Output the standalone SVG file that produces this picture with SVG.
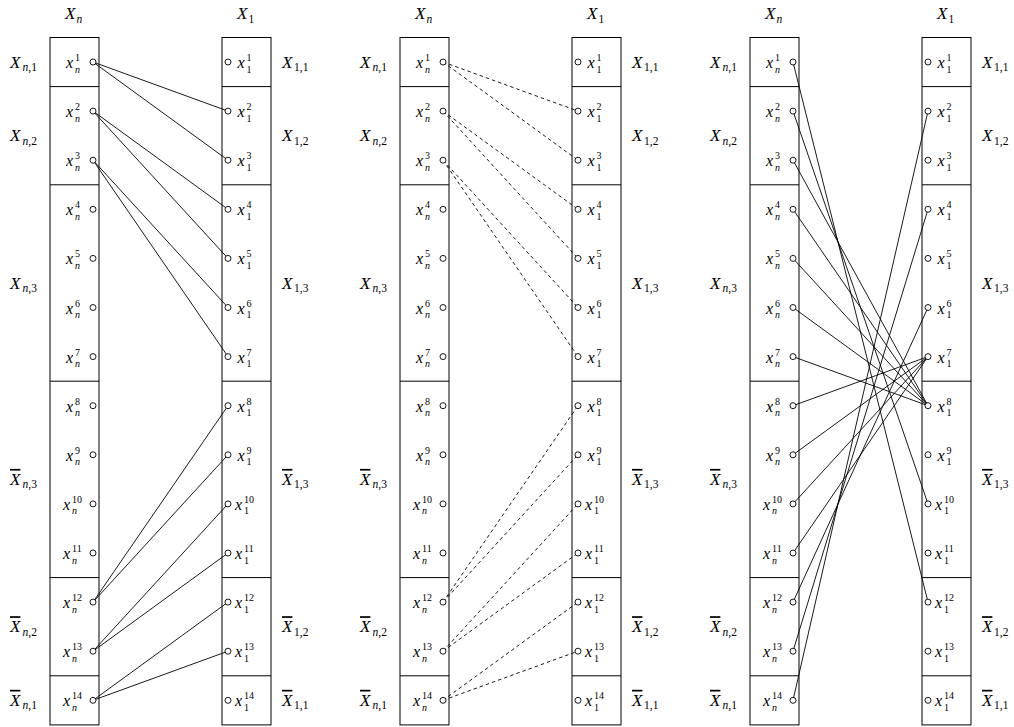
<svg xmlns="http://www.w3.org/2000/svg" width="1014" height="727" viewBox="0 0 1014 727">
<style>
.box{fill:none;stroke:#000;stroke-width:1}
.pt{fill:#fff;stroke:#000;stroke-width:0.9}
.e{fill:none;stroke:#000;stroke-width:0.9}
.d{stroke-dasharray:3.5 3}
text{font-family:"Liberation Serif",serif;font-size:16px;fill:#000}
.g{font-size:17px}
.i{font-style:italic}
.s{font-size:11.5px}
.t{font-size:10px}
.o{text-decoration:overline}
</style>
<rect width="1014" height="727" fill="#fff"/>
<g id="connectors">
<g id="p1-edges" class="e">
<line x1="93" y1="62" x2="228" y2="111.1"/>
<line x1="93" y1="62" x2="228" y2="160.2"/>
<line x1="93" y1="111.1" x2="228" y2="209.3"/>
<line x1="93" y1="111.1" x2="228" y2="258.4"/>
<line x1="93" y1="160.2" x2="228" y2="307.5"/>
<line x1="93" y1="160.2" x2="228" y2="356.6"/>
<line x1="93" y1="602.1" x2="228" y2="405.7"/>
<line x1="93" y1="602.1" x2="228" y2="454.8"/>
<line x1="93" y1="651.2" x2="228" y2="503.9"/>
<line x1="93" y1="651.2" x2="228" y2="553"/>
<line x1="93" y1="700.3" x2="228" y2="602.1"/>
<line x1="93" y1="700.3" x2="228" y2="651.2"/>
</g>
<g id="p2-edges" class="e d">
<line x1="443" y1="62" x2="578" y2="111.1"/>
<line x1="443" y1="62" x2="578" y2="160.2"/>
<line x1="443" y1="111.1" x2="578" y2="209.3"/>
<line x1="443" y1="111.1" x2="578" y2="258.4"/>
<line x1="443" y1="160.2" x2="578" y2="307.5"/>
<line x1="443" y1="160.2" x2="578" y2="356.6"/>
<line x1="443" y1="602.1" x2="578" y2="405.7"/>
<line x1="443" y1="602.1" x2="578" y2="454.8"/>
<line x1="443" y1="651.2" x2="578" y2="503.9"/>
<line x1="443" y1="651.2" x2="578" y2="553"/>
<line x1="443" y1="700.3" x2="578" y2="602.1"/>
<line x1="443" y1="700.3" x2="578" y2="651.2"/>
</g>
<g id="p3-edges" class="e">
<line x1="793" y1="62" x2="928" y2="602.1"/>
<line x1="793" y1="111.1" x2="928" y2="503.9"/>
<line x1="793" y1="160.2" x2="928" y2="405.7"/>
<line x1="793" y1="209.3" x2="928" y2="405.7"/>
<line x1="793" y1="258.4" x2="928" y2="405.7"/>
<line x1="793" y1="307.5" x2="928" y2="405.7"/>
<line x1="793" y1="356.6" x2="928" y2="405.7"/>
<line x1="793" y1="405.7" x2="928" y2="356.6"/>
<line x1="793" y1="454.8" x2="928" y2="356.6"/>
<line x1="793" y1="503.9" x2="928" y2="356.6"/>
<line x1="793" y1="553" x2="928" y2="356.6"/>
<line x1="793" y1="602.1" x2="928" y2="307.5"/>
<line x1="793" y1="651.2" x2="928" y2="209.3"/>
<line x1="793" y1="700.3" x2="928" y2="111.1"/>
</g>
</g>

<g id="panel1">
<g id="p1-Xn"><text class="g" x="65" y="19"><tspan class="i">X</tspan><tspan class="s i" x="76.5" y="22.5">n</tspan></text><rect class="box" x="50" y="37.5" width="49" height="687.4"/><path class="box" d="M50 86.6H99M50 184.8H99M50 381.2H99M50 577.6H99M50 675.8H99"/></g>
<g id="p1-X1"><text class="g" x="237" y="19"><tspan class="i">X</tspan><tspan class="s" x="248.5" y="22.5">1</tspan></text><rect class="box" x="222" y="37.5" width="49" height="687.4"/><path class="box" d="M222 86.6H271M222 184.8H271M222 381.2H271M222 577.6H271M222 675.8H271"/></g>
<g id="p1-Xn1"><text class="g" x="10" y="67.5"><tspan class="i">X</tspan><tspan class="s" x="22.5" y="71"><tspan class="i">n</tspan>,1</tspan></text></g>
<g id="p1-Xn2"><text class="g" x="10" y="141.2"><tspan class="i">X</tspan><tspan class="s" x="22.5" y="144.7"><tspan class="i">n</tspan>,2</tspan></text></g>
<g id="p1-Xn3"><text class="g" x="10" y="288.5"><tspan class="i">X</tspan><tspan class="s" x="22.5" y="292"><tspan class="i">n</tspan>,3</tspan></text></g>
<g id="p1-nXn3"><text class="g" x="10" y="484.9"><tspan class="i o">X</tspan><tspan class="s" x="22.5" y="488.4"><tspan class="i">n</tspan>,3</tspan></text></g>
<g id="p1-nXn2"><text class="g" x="10" y="632.2"><tspan class="i o">X</tspan><tspan class="s" x="22.5" y="635.7"><tspan class="i">n</tspan>,2</tspan></text></g>
<g id="p1-nXn1"><text class="g" x="10" y="705.8"><tspan class="i o">X</tspan><tspan class="s" x="22.5" y="709.3"><tspan class="i">n</tspan>,1</tspan></text></g>
<g id="p1-X11"><text class="g" x="282" y="67.5"><tspan class="i">X</tspan><tspan class="s" x="294" y="71">1,1</tspan></text></g>
<g id="p1-X12"><text class="g" x="282" y="141.2"><tspan class="i">X</tspan><tspan class="s" x="294" y="144.7">1,2</tspan></text></g>
<g id="p1-X13"><text class="g" x="282" y="288.5"><tspan class="i">X</tspan><tspan class="s" x="294" y="292">1,3</tspan></text></g>
<g id="p1-nX13"><text class="g" x="282" y="484.9"><tspan class="i o">X</tspan><tspan class="s" x="294" y="488.4">1,3</tspan></text></g>
<g id="p1-nX12"><text class="g" x="282" y="632.2"><tspan class="i o">X</tspan><tspan class="s" x="294" y="635.7">1,2</tspan></text></g>
<g id="p1-nX11"><text class="g" x="282" y="705.8"><tspan class="i o">X</tspan><tspan class="s" x="294" y="709.3">1,1</tspan></text></g>
<g id="p1-xn1" transform="translate(0,62)"><circle class="pt" cx="93" cy="0" r="3"/><text x="66" y="6"><tspan class="i">x</tspan><tspan class="t" x="75" y="-1">1</tspan><tspan class="t i" x="75" y="10.5">n</tspan></text></g>
<g id="p1-xn2" transform="translate(0,111.1)"><circle class="pt" cx="93" cy="0" r="3"/><text x="66" y="6"><tspan class="i">x</tspan><tspan class="t" x="75" y="-1">2</tspan><tspan class="t i" x="75" y="10.5">n</tspan></text></g>
<g id="p1-xn3" transform="translate(0,160.2)"><circle class="pt" cx="93" cy="0" r="3"/><text x="66" y="6"><tspan class="i">x</tspan><tspan class="t" x="75" y="-1">3</tspan><tspan class="t i" x="75" y="10.5">n</tspan></text></g>
<g id="p1-xn4" transform="translate(0,209.3)"><circle class="pt" cx="93" cy="0" r="3"/><text x="66" y="6"><tspan class="i">x</tspan><tspan class="t" x="75" y="-1">4</tspan><tspan class="t i" x="75" y="10.5">n</tspan></text></g>
<g id="p1-xn5" transform="translate(0,258.4)"><circle class="pt" cx="93" cy="0" r="3"/><text x="66" y="6"><tspan class="i">x</tspan><tspan class="t" x="75" y="-1">5</tspan><tspan class="t i" x="75" y="10.5">n</tspan></text></g>
<g id="p1-xn6" transform="translate(0,307.5)"><circle class="pt" cx="93" cy="0" r="3"/><text x="66" y="6"><tspan class="i">x</tspan><tspan class="t" x="75" y="-1">6</tspan><tspan class="t i" x="75" y="10.5">n</tspan></text></g>
<g id="p1-xn7" transform="translate(0,356.6)"><circle class="pt" cx="93" cy="0" r="3"/><text x="66" y="6"><tspan class="i">x</tspan><tspan class="t" x="75" y="-1">7</tspan><tspan class="t i" x="75" y="10.5">n</tspan></text></g>
<g id="p1-xn8" transform="translate(0,405.7)"><circle class="pt" cx="93" cy="0" r="3"/><text x="66" y="6"><tspan class="i">x</tspan><tspan class="t" x="75" y="-1">8</tspan><tspan class="t i" x="75" y="10.5">n</tspan></text></g>
<g id="p1-xn9" transform="translate(0,454.8)"><circle class="pt" cx="93" cy="0" r="3"/><text x="66" y="6"><tspan class="i">x</tspan><tspan class="t" x="75" y="-1">9</tspan><tspan class="t i" x="75" y="10.5">n</tspan></text></g>
<g id="p1-xn10" transform="translate(0,503.9)"><circle class="pt" cx="93" cy="0" r="3"/><text x="63" y="6"><tspan class="i">x</tspan><tspan class="t" x="72" y="-1">10</tspan><tspan class="t i" x="72" y="10.5">n</tspan></text></g>
<g id="p1-xn11" transform="translate(0,553)"><circle class="pt" cx="93" cy="0" r="3"/><text x="63" y="6"><tspan class="i">x</tspan><tspan class="t" x="72" y="-1">11</tspan><tspan class="t i" x="72" y="10.5">n</tspan></text></g>
<g id="p1-xn12" transform="translate(0,602.1)"><circle class="pt" cx="93" cy="0" r="3"/><text x="63" y="6"><tspan class="i">x</tspan><tspan class="t" x="72" y="-1">12</tspan><tspan class="t i" x="72" y="10.5">n</tspan></text></g>
<g id="p1-xn13" transform="translate(0,651.2)"><circle class="pt" cx="93" cy="0" r="3"/><text x="63" y="6"><tspan class="i">x</tspan><tspan class="t" x="72" y="-1">13</tspan><tspan class="t i" x="72" y="10.5">n</tspan></text></g>
<g id="p1-xn14" transform="translate(0,700.3)"><circle class="pt" cx="93" cy="0" r="3"/><text x="63" y="6"><tspan class="i">x</tspan><tspan class="t" x="72" y="-1">14</tspan><tspan class="t i" x="72" y="10.5">n</tspan></text></g>
<g id="p1-x11" transform="translate(0,62)"><circle class="pt" cx="228" cy="0" r="3"/><text x="237.5" y="6"><tspan class="i">x</tspan><tspan class="t" x="246.5" y="-1">1</tspan><tspan class="t" x="246.5" y="10.5">1</tspan></text></g>
<g id="p1-x12" transform="translate(0,111.1)"><circle class="pt" cx="228" cy="0" r="3"/><text x="237.5" y="6"><tspan class="i">x</tspan><tspan class="t" x="246.5" y="-1">2</tspan><tspan class="t" x="246.5" y="10.5">1</tspan></text></g>
<g id="p1-x13" transform="translate(0,160.2)"><circle class="pt" cx="228" cy="0" r="3"/><text x="237.5" y="6"><tspan class="i">x</tspan><tspan class="t" x="246.5" y="-1">3</tspan><tspan class="t" x="246.5" y="10.5">1</tspan></text></g>
<g id="p1-x14" transform="translate(0,209.3)"><circle class="pt" cx="228" cy="0" r="3"/><text x="237.5" y="6"><tspan class="i">x</tspan><tspan class="t" x="246.5" y="-1">4</tspan><tspan class="t" x="246.5" y="10.5">1</tspan></text></g>
<g id="p1-x15" transform="translate(0,258.4)"><circle class="pt" cx="228" cy="0" r="3"/><text x="237.5" y="6"><tspan class="i">x</tspan><tspan class="t" x="246.5" y="-1">5</tspan><tspan class="t" x="246.5" y="10.5">1</tspan></text></g>
<g id="p1-x16" transform="translate(0,307.5)"><circle class="pt" cx="228" cy="0" r="3"/><text x="237.5" y="6"><tspan class="i">x</tspan><tspan class="t" x="246.5" y="-1">6</tspan><tspan class="t" x="246.5" y="10.5">1</tspan></text></g>
<g id="p1-x17" transform="translate(0,356.6)"><circle class="pt" cx="228" cy="0" r="3"/><text x="237.5" y="6"><tspan class="i">x</tspan><tspan class="t" x="246.5" y="-1">7</tspan><tspan class="t" x="246.5" y="10.5">1</tspan></text></g>
<g id="p1-x18" transform="translate(0,405.7)"><circle class="pt" cx="228" cy="0" r="3"/><text x="237.5" y="6"><tspan class="i">x</tspan><tspan class="t" x="246.5" y="-1">8</tspan><tspan class="t" x="246.5" y="10.5">1</tspan></text></g>
<g id="p1-x19" transform="translate(0,454.8)"><circle class="pt" cx="228" cy="0" r="3"/><text x="237.5" y="6"><tspan class="i">x</tspan><tspan class="t" x="246.5" y="-1">9</tspan><tspan class="t" x="246.5" y="10.5">1</tspan></text></g>
<g id="p1-x110" transform="translate(0,503.9)"><circle class="pt" cx="228" cy="0" r="3"/><text x="235" y="6"><tspan class="i">x</tspan><tspan class="t" x="244" y="-1">10</tspan><tspan class="t" x="244" y="10.5">1</tspan></text></g>
<g id="p1-x111" transform="translate(0,553)"><circle class="pt" cx="228" cy="0" r="3"/><text x="235" y="6"><tspan class="i">x</tspan><tspan class="t" x="244" y="-1">11</tspan><tspan class="t" x="244" y="10.5">1</tspan></text></g>
<g id="p1-x112" transform="translate(0,602.1)"><circle class="pt" cx="228" cy="0" r="3"/><text x="235" y="6"><tspan class="i">x</tspan><tspan class="t" x="244" y="-1">12</tspan><tspan class="t" x="244" y="10.5">1</tspan></text></g>
<g id="p1-x113" transform="translate(0,651.2)"><circle class="pt" cx="228" cy="0" r="3"/><text x="235" y="6"><tspan class="i">x</tspan><tspan class="t" x="244" y="-1">13</tspan><tspan class="t" x="244" y="10.5">1</tspan></text></g>
<g id="p1-x114" transform="translate(0,700.3)"><circle class="pt" cx="228" cy="0" r="3"/><text x="235" y="6"><tspan class="i">x</tspan><tspan class="t" x="244" y="-1">14</tspan><tspan class="t" x="244" y="10.5">1</tspan></text></g>
</g>

<g id="panel2" transform="translate(350,0)">
<g id="p2-Xn"><text class="g" x="65" y="19"><tspan class="i">X</tspan><tspan class="s i" x="76.5" y="22.5">n</tspan></text><rect class="box" x="50" y="37.5" width="49" height="687.4"/><path class="box" d="M50 86.6H99M50 184.8H99M50 381.2H99M50 577.6H99M50 675.8H99"/></g>
<g id="p2-X1"><text class="g" x="237" y="19"><tspan class="i">X</tspan><tspan class="s" x="248.5" y="22.5">1</tspan></text><rect class="box" x="222" y="37.5" width="49" height="687.4"/><path class="box" d="M222 86.6H271M222 184.8H271M222 381.2H271M222 577.6H271M222 675.8H271"/></g>
<g id="p2-Xn1"><text class="g" x="10" y="67.5"><tspan class="i">X</tspan><tspan class="s" x="22.5" y="71"><tspan class="i">n</tspan>,1</tspan></text></g>
<g id="p2-Xn2"><text class="g" x="10" y="141.2"><tspan class="i">X</tspan><tspan class="s" x="22.5" y="144.7"><tspan class="i">n</tspan>,2</tspan></text></g>
<g id="p2-Xn3"><text class="g" x="10" y="288.5"><tspan class="i">X</tspan><tspan class="s" x="22.5" y="292"><tspan class="i">n</tspan>,3</tspan></text></g>
<g id="p2-nXn3"><text class="g" x="10" y="484.9"><tspan class="i o">X</tspan><tspan class="s" x="22.5" y="488.4"><tspan class="i">n</tspan>,3</tspan></text></g>
<g id="p2-nXn2"><text class="g" x="10" y="632.2"><tspan class="i o">X</tspan><tspan class="s" x="22.5" y="635.7"><tspan class="i">n</tspan>,2</tspan></text></g>
<g id="p2-nXn1"><text class="g" x="10" y="705.8"><tspan class="i o">X</tspan><tspan class="s" x="22.5" y="709.3"><tspan class="i">n</tspan>,1</tspan></text></g>
<g id="p2-X11"><text class="g" x="282" y="67.5"><tspan class="i">X</tspan><tspan class="s" x="294" y="71">1,1</tspan></text></g>
<g id="p2-X12"><text class="g" x="282" y="141.2"><tspan class="i">X</tspan><tspan class="s" x="294" y="144.7">1,2</tspan></text></g>
<g id="p2-X13"><text class="g" x="282" y="288.5"><tspan class="i">X</tspan><tspan class="s" x="294" y="292">1,3</tspan></text></g>
<g id="p2-nX13"><text class="g" x="282" y="484.9"><tspan class="i o">X</tspan><tspan class="s" x="294" y="488.4">1,3</tspan></text></g>
<g id="p2-nX12"><text class="g" x="282" y="632.2"><tspan class="i o">X</tspan><tspan class="s" x="294" y="635.7">1,2</tspan></text></g>
<g id="p2-nX11"><text class="g" x="282" y="705.8"><tspan class="i o">X</tspan><tspan class="s" x="294" y="709.3">1,1</tspan></text></g>
<g id="p2-xn1" transform="translate(0,62)"><circle class="pt" cx="93" cy="0" r="3"/><text x="66" y="6"><tspan class="i">x</tspan><tspan class="t" x="75" y="-1">1</tspan><tspan class="t i" x="75" y="10.5">n</tspan></text></g>
<g id="p2-xn2" transform="translate(0,111.1)"><circle class="pt" cx="93" cy="0" r="3"/><text x="66" y="6"><tspan class="i">x</tspan><tspan class="t" x="75" y="-1">2</tspan><tspan class="t i" x="75" y="10.5">n</tspan></text></g>
<g id="p2-xn3" transform="translate(0,160.2)"><circle class="pt" cx="93" cy="0" r="3"/><text x="66" y="6"><tspan class="i">x</tspan><tspan class="t" x="75" y="-1">3</tspan><tspan class="t i" x="75" y="10.5">n</tspan></text></g>
<g id="p2-xn4" transform="translate(0,209.3)"><circle class="pt" cx="93" cy="0" r="3"/><text x="66" y="6"><tspan class="i">x</tspan><tspan class="t" x="75" y="-1">4</tspan><tspan class="t i" x="75" y="10.5">n</tspan></text></g>
<g id="p2-xn5" transform="translate(0,258.4)"><circle class="pt" cx="93" cy="0" r="3"/><text x="66" y="6"><tspan class="i">x</tspan><tspan class="t" x="75" y="-1">5</tspan><tspan class="t i" x="75" y="10.5">n</tspan></text></g>
<g id="p2-xn6" transform="translate(0,307.5)"><circle class="pt" cx="93" cy="0" r="3"/><text x="66" y="6"><tspan class="i">x</tspan><tspan class="t" x="75" y="-1">6</tspan><tspan class="t i" x="75" y="10.5">n</tspan></text></g>
<g id="p2-xn7" transform="translate(0,356.6)"><circle class="pt" cx="93" cy="0" r="3"/><text x="66" y="6"><tspan class="i">x</tspan><tspan class="t" x="75" y="-1">7</tspan><tspan class="t i" x="75" y="10.5">n</tspan></text></g>
<g id="p2-xn8" transform="translate(0,405.7)"><circle class="pt" cx="93" cy="0" r="3"/><text x="66" y="6"><tspan class="i">x</tspan><tspan class="t" x="75" y="-1">8</tspan><tspan class="t i" x="75" y="10.5">n</tspan></text></g>
<g id="p2-xn9" transform="translate(0,454.8)"><circle class="pt" cx="93" cy="0" r="3"/><text x="66" y="6"><tspan class="i">x</tspan><tspan class="t" x="75" y="-1">9</tspan><tspan class="t i" x="75" y="10.5">n</tspan></text></g>
<g id="p2-xn10" transform="translate(0,503.9)"><circle class="pt" cx="93" cy="0" r="3"/><text x="63" y="6"><tspan class="i">x</tspan><tspan class="t" x="72" y="-1">10</tspan><tspan class="t i" x="72" y="10.5">n</tspan></text></g>
<g id="p2-xn11" transform="translate(0,553)"><circle class="pt" cx="93" cy="0" r="3"/><text x="63" y="6"><tspan class="i">x</tspan><tspan class="t" x="72" y="-1">11</tspan><tspan class="t i" x="72" y="10.5">n</tspan></text></g>
<g id="p2-xn12" transform="translate(0,602.1)"><circle class="pt" cx="93" cy="0" r="3"/><text x="63" y="6"><tspan class="i">x</tspan><tspan class="t" x="72" y="-1">12</tspan><tspan class="t i" x="72" y="10.5">n</tspan></text></g>
<g id="p2-xn13" transform="translate(0,651.2)"><circle class="pt" cx="93" cy="0" r="3"/><text x="63" y="6"><tspan class="i">x</tspan><tspan class="t" x="72" y="-1">13</tspan><tspan class="t i" x="72" y="10.5">n</tspan></text></g>
<g id="p2-xn14" transform="translate(0,700.3)"><circle class="pt" cx="93" cy="0" r="3"/><text x="63" y="6"><tspan class="i">x</tspan><tspan class="t" x="72" y="-1">14</tspan><tspan class="t i" x="72" y="10.5">n</tspan></text></g>
<g id="p2-x11" transform="translate(0,62)"><circle class="pt" cx="228" cy="0" r="3"/><text x="237.5" y="6"><tspan class="i">x</tspan><tspan class="t" x="246.5" y="-1">1</tspan><tspan class="t" x="246.5" y="10.5">1</tspan></text></g>
<g id="p2-x12" transform="translate(0,111.1)"><circle class="pt" cx="228" cy="0" r="3"/><text x="237.5" y="6"><tspan class="i">x</tspan><tspan class="t" x="246.5" y="-1">2</tspan><tspan class="t" x="246.5" y="10.5">1</tspan></text></g>
<g id="p2-x13" transform="translate(0,160.2)"><circle class="pt" cx="228" cy="0" r="3"/><text x="237.5" y="6"><tspan class="i">x</tspan><tspan class="t" x="246.5" y="-1">3</tspan><tspan class="t" x="246.5" y="10.5">1</tspan></text></g>
<g id="p2-x14" transform="translate(0,209.3)"><circle class="pt" cx="228" cy="0" r="3"/><text x="237.5" y="6"><tspan class="i">x</tspan><tspan class="t" x="246.5" y="-1">4</tspan><tspan class="t" x="246.5" y="10.5">1</tspan></text></g>
<g id="p2-x15" transform="translate(0,258.4)"><circle class="pt" cx="228" cy="0" r="3"/><text x="237.5" y="6"><tspan class="i">x</tspan><tspan class="t" x="246.5" y="-1">5</tspan><tspan class="t" x="246.5" y="10.5">1</tspan></text></g>
<g id="p2-x16" transform="translate(0,307.5)"><circle class="pt" cx="228" cy="0" r="3"/><text x="237.5" y="6"><tspan class="i">x</tspan><tspan class="t" x="246.5" y="-1">6</tspan><tspan class="t" x="246.5" y="10.5">1</tspan></text></g>
<g id="p2-x17" transform="translate(0,356.6)"><circle class="pt" cx="228" cy="0" r="3"/><text x="237.5" y="6"><tspan class="i">x</tspan><tspan class="t" x="246.5" y="-1">7</tspan><tspan class="t" x="246.5" y="10.5">1</tspan></text></g>
<g id="p2-x18" transform="translate(0,405.7)"><circle class="pt" cx="228" cy="0" r="3"/><text x="237.5" y="6"><tspan class="i">x</tspan><tspan class="t" x="246.5" y="-1">8</tspan><tspan class="t" x="246.5" y="10.5">1</tspan></text></g>
<g id="p2-x19" transform="translate(0,454.8)"><circle class="pt" cx="228" cy="0" r="3"/><text x="237.5" y="6"><tspan class="i">x</tspan><tspan class="t" x="246.5" y="-1">9</tspan><tspan class="t" x="246.5" y="10.5">1</tspan></text></g>
<g id="p2-x110" transform="translate(0,503.9)"><circle class="pt" cx="228" cy="0" r="3"/><text x="235" y="6"><tspan class="i">x</tspan><tspan class="t" x="244" y="-1">10</tspan><tspan class="t" x="244" y="10.5">1</tspan></text></g>
<g id="p2-x111" transform="translate(0,553)"><circle class="pt" cx="228" cy="0" r="3"/><text x="235" y="6"><tspan class="i">x</tspan><tspan class="t" x="244" y="-1">11</tspan><tspan class="t" x="244" y="10.5">1</tspan></text></g>
<g id="p2-x112" transform="translate(0,602.1)"><circle class="pt" cx="228" cy="0" r="3"/><text x="235" y="6"><tspan class="i">x</tspan><tspan class="t" x="244" y="-1">12</tspan><tspan class="t" x="244" y="10.5">1</tspan></text></g>
<g id="p2-x113" transform="translate(0,651.2)"><circle class="pt" cx="228" cy="0" r="3"/><text x="235" y="6"><tspan class="i">x</tspan><tspan class="t" x="244" y="-1">13</tspan><tspan class="t" x="244" y="10.5">1</tspan></text></g>
<g id="p2-x114" transform="translate(0,700.3)"><circle class="pt" cx="228" cy="0" r="3"/><text x="235" y="6"><tspan class="i">x</tspan><tspan class="t" x="244" y="-1">14</tspan><tspan class="t" x="244" y="10.5">1</tspan></text></g>
</g>

<g id="panel3" transform="translate(700,0)">
<g id="p3-Xn"><text class="g" x="65" y="19"><tspan class="i">X</tspan><tspan class="s i" x="76.5" y="22.5">n</tspan></text><rect class="box" x="50" y="37.5" width="49" height="687.4"/><path class="box" d="M50 86.6H99M50 184.8H99M50 381.2H99M50 577.6H99M50 675.8H99"/></g>
<g id="p3-X1"><text class="g" x="237" y="19"><tspan class="i">X</tspan><tspan class="s" x="248.5" y="22.5">1</tspan></text><rect class="box" x="222" y="37.5" width="49" height="687.4"/><path class="box" d="M222 86.6H271M222 184.8H271M222 381.2H271M222 577.6H271M222 675.8H271"/></g>
<g id="p3-Xn1"><text class="g" x="10" y="67.5"><tspan class="i">X</tspan><tspan class="s" x="22.5" y="71"><tspan class="i">n</tspan>,1</tspan></text></g>
<g id="p3-Xn2"><text class="g" x="10" y="141.2"><tspan class="i">X</tspan><tspan class="s" x="22.5" y="144.7"><tspan class="i">n</tspan>,2</tspan></text></g>
<g id="p3-Xn3"><text class="g" x="10" y="288.5"><tspan class="i">X</tspan><tspan class="s" x="22.5" y="292"><tspan class="i">n</tspan>,3</tspan></text></g>
<g id="p3-nXn3"><text class="g" x="10" y="484.9"><tspan class="i o">X</tspan><tspan class="s" x="22.5" y="488.4"><tspan class="i">n</tspan>,3</tspan></text></g>
<g id="p3-nXn2"><text class="g" x="10" y="632.2"><tspan class="i o">X</tspan><tspan class="s" x="22.5" y="635.7"><tspan class="i">n</tspan>,2</tspan></text></g>
<g id="p3-nXn1"><text class="g" x="10" y="705.8"><tspan class="i o">X</tspan><tspan class="s" x="22.5" y="709.3"><tspan class="i">n</tspan>,1</tspan></text></g>
<g id="p3-X11"><text class="g" x="282" y="67.5"><tspan class="i">X</tspan><tspan class="s" x="294" y="71">1,1</tspan></text></g>
<g id="p3-X12"><text class="g" x="282" y="141.2"><tspan class="i">X</tspan><tspan class="s" x="294" y="144.7">1,2</tspan></text></g>
<g id="p3-X13"><text class="g" x="282" y="288.5"><tspan class="i">X</tspan><tspan class="s" x="294" y="292">1,3</tspan></text></g>
<g id="p3-nX13"><text class="g" x="282" y="484.9"><tspan class="i o">X</tspan><tspan class="s" x="294" y="488.4">1,3</tspan></text></g>
<g id="p3-nX12"><text class="g" x="282" y="632.2"><tspan class="i o">X</tspan><tspan class="s" x="294" y="635.7">1,2</tspan></text></g>
<g id="p3-nX11"><text class="g" x="282" y="705.8"><tspan class="i o">X</tspan><tspan class="s" x="294" y="709.3">1,1</tspan></text></g>
<g id="p3-xn1" transform="translate(0,62)"><circle class="pt" cx="93" cy="0" r="3"/><text x="66" y="6"><tspan class="i">x</tspan><tspan class="t" x="75" y="-1">1</tspan><tspan class="t i" x="75" y="10.5">n</tspan></text></g>
<g id="p3-xn2" transform="translate(0,111.1)"><circle class="pt" cx="93" cy="0" r="3"/><text x="66" y="6"><tspan class="i">x</tspan><tspan class="t" x="75" y="-1">2</tspan><tspan class="t i" x="75" y="10.5">n</tspan></text></g>
<g id="p3-xn3" transform="translate(0,160.2)"><circle class="pt" cx="93" cy="0" r="3"/><text x="66" y="6"><tspan class="i">x</tspan><tspan class="t" x="75" y="-1">3</tspan><tspan class="t i" x="75" y="10.5">n</tspan></text></g>
<g id="p3-xn4" transform="translate(0,209.3)"><circle class="pt" cx="93" cy="0" r="3"/><text x="66" y="6"><tspan class="i">x</tspan><tspan class="t" x="75" y="-1">4</tspan><tspan class="t i" x="75" y="10.5">n</tspan></text></g>
<g id="p3-xn5" transform="translate(0,258.4)"><circle class="pt" cx="93" cy="0" r="3"/><text x="66" y="6"><tspan class="i">x</tspan><tspan class="t" x="75" y="-1">5</tspan><tspan class="t i" x="75" y="10.5">n</tspan></text></g>
<g id="p3-xn6" transform="translate(0,307.5)"><circle class="pt" cx="93" cy="0" r="3"/><text x="66" y="6"><tspan class="i">x</tspan><tspan class="t" x="75" y="-1">6</tspan><tspan class="t i" x="75" y="10.5">n</tspan></text></g>
<g id="p3-xn7" transform="translate(0,356.6)"><circle class="pt" cx="93" cy="0" r="3"/><text x="66" y="6"><tspan class="i">x</tspan><tspan class="t" x="75" y="-1">7</tspan><tspan class="t i" x="75" y="10.5">n</tspan></text></g>
<g id="p3-xn8" transform="translate(0,405.7)"><circle class="pt" cx="93" cy="0" r="3"/><text x="66" y="6"><tspan class="i">x</tspan><tspan class="t" x="75" y="-1">8</tspan><tspan class="t i" x="75" y="10.5">n</tspan></text></g>
<g id="p3-xn9" transform="translate(0,454.8)"><circle class="pt" cx="93" cy="0" r="3"/><text x="66" y="6"><tspan class="i">x</tspan><tspan class="t" x="75" y="-1">9</tspan><tspan class="t i" x="75" y="10.5">n</tspan></text></g>
<g id="p3-xn10" transform="translate(0,503.9)"><circle class="pt" cx="93" cy="0" r="3"/><text x="63" y="6"><tspan class="i">x</tspan><tspan class="t" x="72" y="-1">10</tspan><tspan class="t i" x="72" y="10.5">n</tspan></text></g>
<g id="p3-xn11" transform="translate(0,553)"><circle class="pt" cx="93" cy="0" r="3"/><text x="63" y="6"><tspan class="i">x</tspan><tspan class="t" x="72" y="-1">11</tspan><tspan class="t i" x="72" y="10.5">n</tspan></text></g>
<g id="p3-xn12" transform="translate(0,602.1)"><circle class="pt" cx="93" cy="0" r="3"/><text x="63" y="6"><tspan class="i">x</tspan><tspan class="t" x="72" y="-1">12</tspan><tspan class="t i" x="72" y="10.5">n</tspan></text></g>
<g id="p3-xn13" transform="translate(0,651.2)"><circle class="pt" cx="93" cy="0" r="3"/><text x="63" y="6"><tspan class="i">x</tspan><tspan class="t" x="72" y="-1">13</tspan><tspan class="t i" x="72" y="10.5">n</tspan></text></g>
<g id="p3-xn14" transform="translate(0,700.3)"><circle class="pt" cx="93" cy="0" r="3"/><text x="63" y="6"><tspan class="i">x</tspan><tspan class="t" x="72" y="-1">14</tspan><tspan class="t i" x="72" y="10.5">n</tspan></text></g>
<g id="p3-x11" transform="translate(0,62)"><circle class="pt" cx="228" cy="0" r="3"/><text x="237.5" y="6"><tspan class="i">x</tspan><tspan class="t" x="246.5" y="-1">1</tspan><tspan class="t" x="246.5" y="10.5">1</tspan></text></g>
<g id="p3-x12" transform="translate(0,111.1)"><circle class="pt" cx="228" cy="0" r="3"/><text x="237.5" y="6"><tspan class="i">x</tspan><tspan class="t" x="246.5" y="-1">2</tspan><tspan class="t" x="246.5" y="10.5">1</tspan></text></g>
<g id="p3-x13" transform="translate(0,160.2)"><circle class="pt" cx="228" cy="0" r="3"/><text x="237.5" y="6"><tspan class="i">x</tspan><tspan class="t" x="246.5" y="-1">3</tspan><tspan class="t" x="246.5" y="10.5">1</tspan></text></g>
<g id="p3-x14" transform="translate(0,209.3)"><circle class="pt" cx="228" cy="0" r="3"/><text x="237.5" y="6"><tspan class="i">x</tspan><tspan class="t" x="246.5" y="-1">4</tspan><tspan class="t" x="246.5" y="10.5">1</tspan></text></g>
<g id="p3-x15" transform="translate(0,258.4)"><circle class="pt" cx="228" cy="0" r="3"/><text x="237.5" y="6"><tspan class="i">x</tspan><tspan class="t" x="246.5" y="-1">5</tspan><tspan class="t" x="246.5" y="10.5">1</tspan></text></g>
<g id="p3-x16" transform="translate(0,307.5)"><circle class="pt" cx="228" cy="0" r="3"/><text x="237.5" y="6"><tspan class="i">x</tspan><tspan class="t" x="246.5" y="-1">6</tspan><tspan class="t" x="246.5" y="10.5">1</tspan></text></g>
<g id="p3-x17" transform="translate(0,356.6)"><circle class="pt" cx="228" cy="0" r="3"/><text x="237.5" y="6"><tspan class="i">x</tspan><tspan class="t" x="246.5" y="-1">7</tspan><tspan class="t" x="246.5" y="10.5">1</tspan></text></g>
<g id="p3-x18" transform="translate(0,405.7)"><circle class="pt" cx="228" cy="0" r="3"/><text x="237.5" y="6"><tspan class="i">x</tspan><tspan class="t" x="246.5" y="-1">8</tspan><tspan class="t" x="246.5" y="10.5">1</tspan></text></g>
<g id="p3-x19" transform="translate(0,454.8)"><circle class="pt" cx="228" cy="0" r="3"/><text x="237.5" y="6"><tspan class="i">x</tspan><tspan class="t" x="246.5" y="-1">9</tspan><tspan class="t" x="246.5" y="10.5">1</tspan></text></g>
<g id="p3-x110" transform="translate(0,503.9)"><circle class="pt" cx="228" cy="0" r="3"/><text x="235" y="6"><tspan class="i">x</tspan><tspan class="t" x="244" y="-1">10</tspan><tspan class="t" x="244" y="10.5">1</tspan></text></g>
<g id="p3-x111" transform="translate(0,553)"><circle class="pt" cx="228" cy="0" r="3"/><text x="235" y="6"><tspan class="i">x</tspan><tspan class="t" x="244" y="-1">11</tspan><tspan class="t" x="244" y="10.5">1</tspan></text></g>
<g id="p3-x112" transform="translate(0,602.1)"><circle class="pt" cx="228" cy="0" r="3"/><text x="235" y="6"><tspan class="i">x</tspan><tspan class="t" x="244" y="-1">12</tspan><tspan class="t" x="244" y="10.5">1</tspan></text></g>
<g id="p3-x113" transform="translate(0,651.2)"><circle class="pt" cx="228" cy="0" r="3"/><text x="235" y="6"><tspan class="i">x</tspan><tspan class="t" x="244" y="-1">13</tspan><tspan class="t" x="244" y="10.5">1</tspan></text></g>
<g id="p3-x114" transform="translate(0,700.3)"><circle class="pt" cx="228" cy="0" r="3"/><text x="235" y="6"><tspan class="i">x</tspan><tspan class="t" x="244" y="-1">14</tspan><tspan class="t" x="244" y="10.5">1</tspan></text></g>
</g>
</svg>
